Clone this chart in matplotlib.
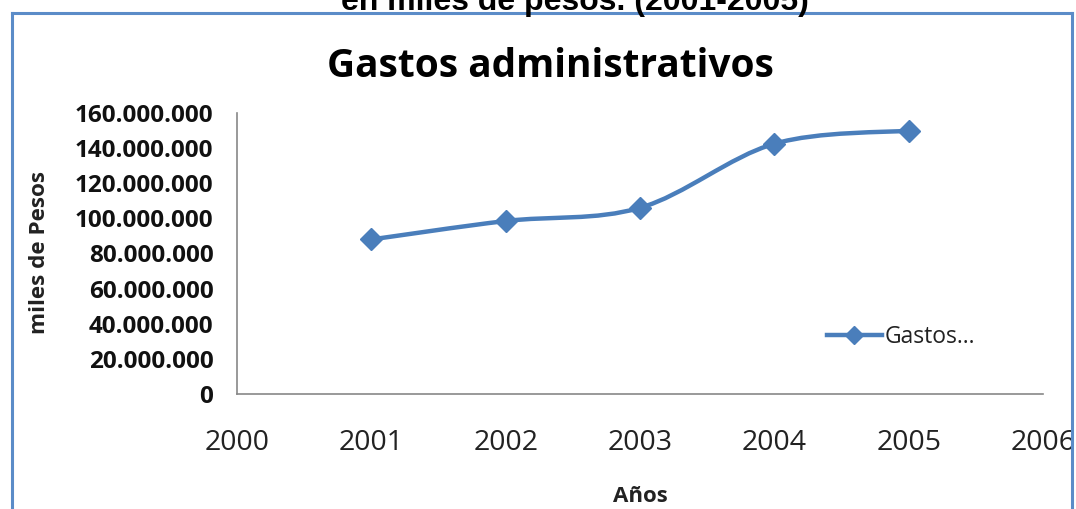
"""Line chart of administrative expenses, 2001-2005 (thousands of pesos)."""

import matplotlib

matplotlib.use("Agg")
import matplotlib.pyplot as plt
from matplotlib.lines import Line2D
from matplotlib.patches import PathPatch
from matplotlib.path import Path
from matplotlib.ticker import FuncFormatter

years = [2001, 2002, 2003, 2004, 2005]
gastos = [88_000_000, 98_500_000, 106_000_000, 142_500_000, 150_000_000]

y_ticks = list(range(0, 160_000_001, 20_000_000))
x_ticks = [2000, 2001, 2002, 2003, 2004, 2005, 2006]

W, H = 1076, 509
BLUE = "#4A7EBB"
AXIS_GRAY = "#888888"
FONT = "Open Sans"


def fx(px):
    return px / W


def fy(py):
    return 1 - py / H


def smooth_path(xs, ys):
    """Cubic Bezier path through the points, Catmull-Rom style tangents."""
    pts = list(zip(xs, ys))
    verts = [pts[0]]
    codes = [Path.MOVETO]
    n = len(pts)
    for i in range(n - 1):
        p0 = pts[i - 1] if i > 0 else pts[i]
        p1 = pts[i]
        p2 = pts[i + 1]
        p3 = pts[i + 2] if i + 2 < n else pts[i + 1]
        c1 = (p1[0] + (p2[0] - p0[0]) / 6, p1[1] + (p2[1] - p0[1]) / 6)
        c2 = (p2[0] - (p3[0] - p1[0]) / 6, p2[1] - (p3[1] - p1[1]) / 6)
        verts += [c1, c2, p2]
        codes += [Path.CURVE4] * 3
    return Path(verts, codes)


fig = plt.figure(figsize=(W / 100, H / 100), dpi=100)
fig.patch.set_facecolor("white")

# caption left over from the page above, cut by the top edge
fig.text(fx(575), fy(10), "en miles de pesos. (2001-2005)", ha="center",
         va="baseline", fontsize=23, fontweight="bold",
         family="Liberation Sans", color="black")

# blue frame around the chart object
frame_kw = dict(color="#5B8CC8", linewidth=2.2, transform=fig.transFigure)
fig.add_artist(Line2D([fx(12), fx(1072)], [fy(13), fy(13)], **frame_kw))
fig.add_artist(Line2D([fx(12), fx(12)], [fy(13), fy(515)], **frame_kw))
fig.add_artist(Line2D([fx(1072), fx(1072)], [fy(13), fy(515)], **frame_kw))

ax = fig.add_axes([fx(237), fy(394), fx(1043) - fx(237), (394 - 113) / H])
ax.set_xlim(2000, 2006)
ax.set_ylim(0, 160_000_000)

ax.add_patch(PathPatch(smooth_path(years, gastos), facecolor="none",
                       edgecolor=BLUE, linewidth=3.2, capstyle="round",
                       joinstyle="round"))
ax.plot(years, gastos, linestyle="none", marker="D", markersize=11,
        color=BLUE, markeredgecolor=BLUE)

# legend entry drawn as a line with marker
legend_handle = Line2D([], [], color=BLUE, linewidth=3.2, marker="D",
                       markersize=9)
leg = ax.legend([legend_handle], ["Gastos..."], loc="center left",
                bbox_to_anchor=((806 - 237) / 806, (394 - 337) / 281),
                frameon=False, handlelength=2.4, handletextpad=0.15,
                prop={"family": FONT, "size": 16.5})
for t in leg.get_texts():
    t.set_color("#222222")

for side in ("top", "right"):
    ax.spines[side].set_visible(False)
for side in ("left", "bottom"):
    ax.spines[side].set_color(AXIS_GRAY)
    ax.spines[side].set_linewidth(1.2)

ax.set_yticks(y_ticks)
ax.yaxis.set_major_formatter(
    FuncFormatter(lambda v, _: f"{v:,.0f}".replace(",", ".")))
ax.set_xticks(x_ticks)
ax.tick_params(axis="both", length=0)
ax.tick_params(axis="y", pad=17)
ax.tick_params(axis="x", pad=25)
for lab in ax.get_yticklabels():
    lab.set_family(FONT)
    lab.set_fontweight("bold")
    lab.set_fontsize(17.5)
    lab.set_color("#111111")
for lab in ax.get_xticklabels():
    lab.set_family(FONT)
    lab.set_fontsize(20.5)
    lab.set_color("#222222")

fig.text(fx(550), fy(77), "Gastos administrativos", ha="center",
         va="baseline", fontsize=28, fontweight="bold", family=FONT)
fig.text(fx(640), fy(497), "Años", ha="center", va="center",
         fontsize=16, fontweight="bold", family=FONT, color="#222222")
fig.text(fx(40), fy(253), "miles de Pesos", ha="center", va="center",
         rotation=90, fontsize=16.2, fontweight="bold", family=FONT,
         color="#222222")

fig.savefig("out.png", dpi=100)
